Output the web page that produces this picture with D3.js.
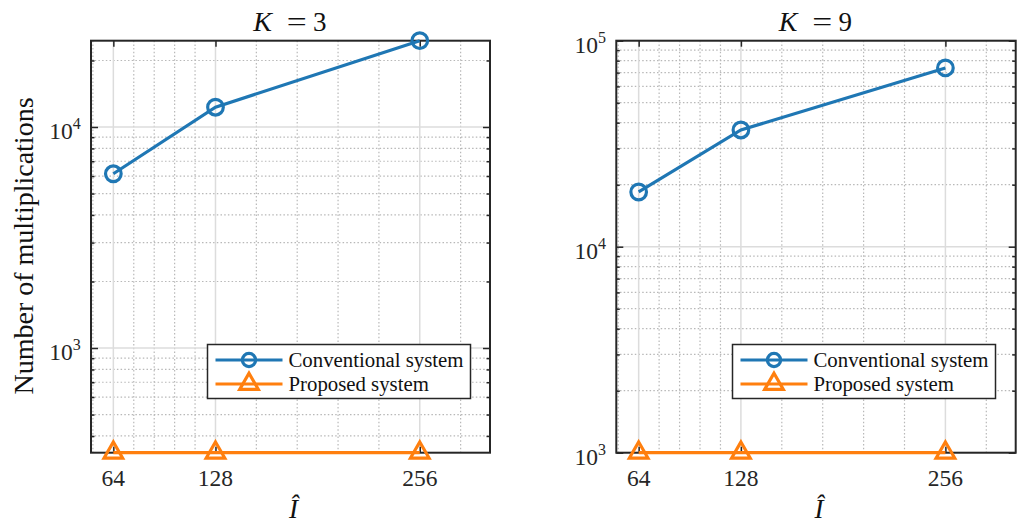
<!DOCTYPE html>
<html>
<head>
<meta charset="utf-8">
<script src="https://cdn.jsdelivr.net/npm/d3@7"></script>
<style>
  body { margin: 0; background: #fff; }
  svg { font-family: "Liberation Serif", "DejaVu Serif", serif; }
</style>
</head>
<body>
<svg id="chart" width="1029" height="530"></svg>
<script>
var svg = d3.select("#chart");

// data
const xValues = [64, 128, 256];
const xTickValues = [64, 128, 256];
const xMinorGrid = [51.2, 76.8, 89.6, 102.4, 115.2, 153.6, 179.2, 204.8, 230.4, 281.6];
const convK3 = [6144, 12288, 24576];
const propK3 = [336, 336, 336];
const convK9 = [18432, 36864, 73728];
const propK9 = [1000, 1000, 1000];
const yDomainK3 = [336, 24576];
const yDomainK9 = [1000, 100000];
const yTicksK3 = [1000, 10000];
const yTicksK9 = [1000, 10000, 100000];
const seriesNames = ["Conventional system", "Proposed system"];

const blue = "#1f77b4";
const orange = "#ff7f0e";
const plotTop = 40.7;
const plotBottom = 452.7;

function minorLogValues(domain) {
    let out = [];
    for (let e = Math.floor(Math.log10(domain[0])); e <= Math.ceil(Math.log10(domain[1])); e++) {
        for (let m = 2; m <= 9; m++) {
            let v = m * Math.pow(10, e);
            if (v > domain[0] && v < domain[1]) out.push(v);
        }
    }
    return out;
}

function drawPanel(opts) {
    var x = d3.scaleLinear().domain([50, 300]).range([opts.left, opts.right]);
    var y = d3.scaleLog().domain(opts.yDomain).range([plotBottom, plotTop]);
    var g = svg.append("g");
    var yMinor = minorLogValues(opts.yDomain);

    // minor grid (dotted)
    g.selectAll(".xminor").data(xMinorGrid).enter().append("line")
        .attr("x1", d => x(d)).attr("x2", d => x(d))
        .attr("y1", plotTop).attr("y2", plotBottom)
        .attr("stroke", "#b8b8b8").attr("stroke-width", 1.2).attr("stroke-dasharray", "1.5,2.2");
    g.selectAll(".yminor").data(yMinor).enter().append("line")
        .attr("x1", opts.left).attr("x2", opts.right)
        .attr("y1", d => y(d)).attr("y2", d => y(d))
        .attr("stroke", "#b8b8b8").attr("stroke-width", 1.2).attr("stroke-dasharray", "1.5,2.2");

    // major grid
    g.selectAll(".xmajor").data(xTickValues).enter().append("line")
        .attr("x1", d => x(d)).attr("x2", d => x(d))
        .attr("y1", plotTop).attr("y2", plotBottom)
        .attr("stroke", "#dcdcdc").attr("stroke-width", 1.5);
    g.selectAll(".ymajor").data(opts.yTicks).enter().append("line")
        .attr("x1", opts.left).attr("x2", opts.right)
        .attr("y1", d => y(d)).attr("y2", d => y(d))
        .attr("stroke", "#dcdcdc").attr("stroke-width", 1.5);

    // inward ticks on all four sides
    var tickColor = "#262626";
    [[d3.axisBottom(x), plotBottom], [d3.axisTop(x), plotTop]].forEach(function (a) {
        var ax = g.append("g").attr("transform", `translate(0,${a[1]})`)
            .call(a[0].tickValues(xTickValues).tickSize(-6).tickFormat(""));
        ax.select(".domain").remove();
        ax.selectAll("line").attr("stroke", tickColor).attr("stroke-width", 1.5);
    });
    [[d3.axisLeft(y), opts.left], [d3.axisRight(y), opts.right]].forEach(function (a) {
        var axMaj = g.append("g").attr("transform", `translate(${a[1]},0)`)
            .call(a[0].tickValues(opts.yTicks).tickSize(-7).tickFormat(""));
        axMaj.select(".domain").remove();
        axMaj.selectAll("line").attr("stroke", tickColor).attr("stroke-width", 1.5);
    });
    [[d3.axisLeft(y), opts.left], [d3.axisRight(y), opts.right]].forEach(function (a) {
        var axMin = g.append("g").attr("transform", `translate(${a[1]},0)`)
            .call(a[0].tickValues(yMinor).tickSize(-3.5).tickFormat(""));
        axMin.select(".domain").remove();
        axMin.selectAll("line").attr("stroke", tickColor).attr("stroke-width", 1.5);
    });

    // box
    g.append("rect")
        .attr("x", opts.left).attr("y", plotTop)
        .attr("width", opts.right - opts.left).attr("height", plotBottom - plotTop)
        .attr("fill", "none").attr("stroke", tickColor).attr("stroke-width", 2);

    // x tick labels
    g.selectAll(".xlab").data(xTickValues).enter().append("text")
        .attr("x", d => x(d)).attr("y", plotBottom + 33)
        .attr("text-anchor", "middle").attr("font-size", 23.5).attr("fill", "#262626")
        .text(d => d);

    // y tick labels 10^n
    var ylab = g.selectAll(".ylab").data(opts.yTicks).enter().append("text")
        .attr("x", opts.left - 10.3).attr("y", d => y(d) + 12.3)
        .attr("text-anchor", "end").attr("font-size", 23.5).attr("fill", "#262626");
    ylab.append("tspan").text("10");
    ylab.append("tspan").attr("dy", -10).attr("font-size", 16).text(d => Math.round(Math.log10(d)));

    // title, LaTeX-like spacing
    var cx = (opts.left + opts.right) / 2;
    g.append("text").attr("x", cx - 28).attr("y", 31)
        .attr("text-anchor", "middle").attr("font-size", 28).attr("font-style", "italic")
        .attr("fill", "#111").text("K");
    g.append("text").attr("x", cx - 3.8).attr("y", 31)
        .attr("font-size", 28).attr("fill", "#111")
        .attr("textLength", 20).attr("lengthAdjust", "spacingAndGlyphs").text("=");
    g.append("text").attr("x", cx + 29.3).attr("y", 31)
        .attr("text-anchor", "middle").attr("font-size", 27).attr("fill", "#111")
        .text(opts.k);

    // x label
    g.append("text").attr("x", cx + 3).attr("y", 518)
        .attr("text-anchor", "middle").attr("font-size", 27).attr("font-style", "italic")
        .attr("fill", "#111").text("Î");

    // series
    var line = d3.line().x((d, i) => x(xValues[i])).y(d => y(d));
    var series = [{ values: opts.conv, color: blue, marker: "circle" },
                  { values: opts.prop, color: orange, marker: "triangle" }];
    series.forEach(function (s) {
        g.append("path").datum(s.values).attr("d", line)
            .attr("fill", "none").attr("stroke", s.color).attr("stroke-width", 3.2);
        drawMarkers(g, s.values.map((v, i) => [x(xValues[i]), y(v)]), s.marker, s.color, 1);
    });

    // legend
    var lg = g.append("g");
    lg.append("rect")
        .attr("x", opts.legendX).attr("y", 344.5)
        .attr("width", 263).attr("height", 54)
        .attr("fill", "#fff").attr("stroke", "#262626").attr("stroke-width", 1.5);
    series.forEach(function (s, i) {
        var ly = 360 + i * 24;
        lg.append("line")
            .attr("x1", opts.legendX + 8).attr("x2", opts.legendX + 75)
            .attr("y1", ly).attr("y2", ly)
            .attr("stroke", s.color).attr("stroke-width", 3.2);
        drawMarkers(lg, [[opts.legendX + 41.5, ly]], s.marker, s.color, s.marker === "circle" ? 0.85 : 1);
        lg.append("text")
            .attr("x", opts.legendX + 81).attr("y", ly + 7)
            .attr("font-size", 20.8).attr("fill", "#111").text(seriesNames[i]);
    });
}

function drawMarkers(g, pts, marker, color, scale) {
    if (marker === "circle") {
        g.selectAll(null).data(pts).enter().append("circle")
            .attr("cx", d => d[0]).attr("cy", d => d[1]).attr("r", 7.8 * scale)
            .attr("fill", "none").attr("stroke", color).attr("stroke-width", 3.2);
    } else {
        var sym = d3.symbol().type(d3.symbolTriangle).size(150 * scale * scale);
        g.selectAll(null).data(pts).enter().append("path")
            .attr("d", sym)
            .attr("transform", d => `translate(${d[0]},${d[1]})`)
            .attr("fill", "none").attr("stroke", color).attr("stroke-width", 3.2);
    }
}

drawPanel({ left: 91, right: 490, yDomain: yDomainK3, yTicks: yTicksK3, conv: convK3, prop: propK3, k: 3, legendX: 207.5 });
drawPanel({ left: 616.3, right: 1015.7, yDomain: yDomainK9, yTicks: yTicksK9, conv: convK9, prop: propK9, k: 9, legendX: 732.5 });

// shared y label
svg.append("text")
    .attr("transform", "translate(33,246) rotate(-90)")
    .attr("text-anchor", "middle").attr("font-size", 28).attr("fill", "#111")
    .text("Number of multiplications");
</script>
</body>
</html>
